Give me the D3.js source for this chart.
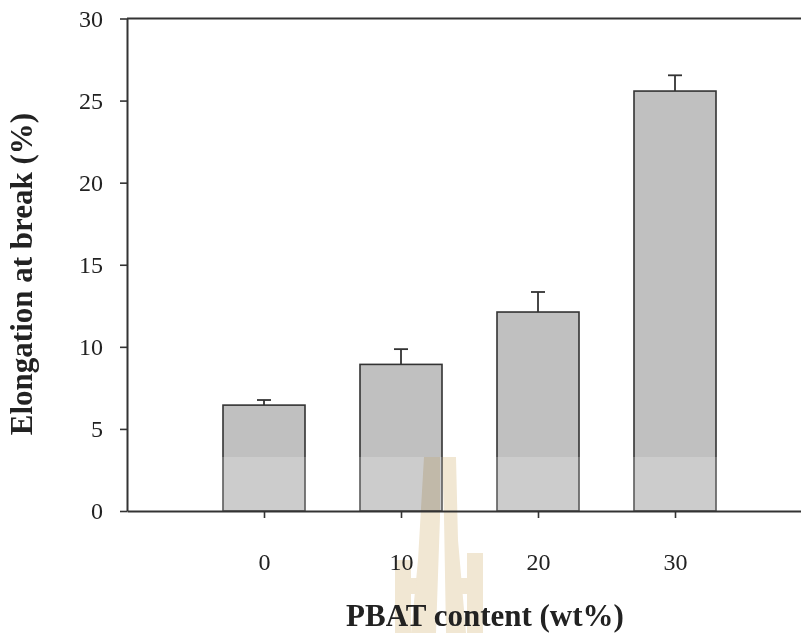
<!DOCTYPE html>
<html>
<head>
<meta charset="utf-8">
<script src="https://cdn.jsdelivr.net/npm/d3@7"></script>
<style>
  body { margin: 0; background: #fff; }
  text { font-family: "Liberation Serif", "Times New Roman", serif; fill: #222; }
</style>
</head>
<body>
<div id="chart"></div>
<script>
// data
var pbat = [0, 10, 20, 30];
var elongation = [6.45, 8.93, 12.12, 25.58];
var errors = [0.31, 0.93, 1.22, 0.96];
var yTicks = [0, 5, 10, 15, 20, 25, 30];

var width = 801;
var height = 633;

var svg = d3.select("#chart").append("svg")
    .attr("width", width)
    .attr("height", height);

/* Scales */
var x = d3.scaleLinear()
    .domain([-10, 40])
    .range([127, 812]);

var y = d3.scaleLinear()
    .domain([0, 30])
    .range([511, 18.5]);

var barWidth = 82;

/* Bars */
svg.append("g")
    .selectAll("rect")
    .data(pbat).enter()
    .append("rect")
    .attr("x", (d, i) => x(d) - barWidth / 2)
    .attr("y", (d, i) => y(elongation[i]))
    .attr("width", barWidth)
    .attr("height", (d, i) => y(0) - y(elongation[i]))
    .attr("fill", "#c0c0c0")
    .attr("stroke", "#333")
    .attr("stroke-width", 1.6);

/* Error bars (upper only) */
var err = svg.append("g")
    .attr("stroke", "#333")
    .attr("stroke-width", 1.8);

err.selectAll(".stem")
    .data(pbat).enter()
    .append("line")
    .attr("x1", d => x(d))
    .attr("x2", d => x(d))
    .attr("y1", (d, i) => y(elongation[i]))
    .attr("y2", (d, i) => y(elongation[i] + errors[i]));

err.selectAll(".cap")
    .data(pbat).enter()
    .append("line")
    .attr("x1", d => x(d) - 7)
    .attr("x2", d => x(d) + 7)
    .attr("y1", (d, i) => y(elongation[i] + errors[i]))
    .attr("y2", (d, i) => y(elongation[i] + errors[i]));

/* Watermark band + logo */
svg.append("rect")
    .attr("x", 127)
    .attr("y", 457)
    .attr("width", width - 127)
    .attr("height", y(0) - 457)
    .attr("fill", "#fff")
    .attr("opacity", 0.2);

var logo = svg.append("g")
    .attr("fill", "#f1e7d3")
    .style("mix-blend-mode", "multiply");
logo.append("path")
    .attr("d", "M424,457 L440,457 L440,517 L436,633 L411,633 L418,560 Z");
logo.append("path")
    .attr("d", "M442,457 L456,457 L458,540 L466,633 L446,633 L444,517 Z");
logo.append("path")
    .attr("d", "M395,560 L411,560 L411,633 L395,633 Z");
logo.append("path")
    .attr("d", "M467,553 L483,553 L483,633 L467,633 Z");
logo.append("path")
    .attr("d", "M411,578 L417,578 L416,594 L411,594 Z");
logo.append("path")
    .attr("d", "M459,578 L467,578 L467,594 L461,594 Z");

/* Axes */
var xAxis = d3.axisBottom(x)
    .tickValues(pbat)
    .tickSize(7)
    .tickSizeOuter(0)
    .tickPadding(35);

var yAxis = d3.axisLeft(y)
    .tickValues(yTicks)
    .tickSize(7)
    .tickSizeOuter(0)
    .tickPadding(17);

var gx = svg.append("g")
    .attr("class", "x axis")
    .attr("transform", `translate(0, ${y(0)})`)
    .call(xAxis);

var gy = svg.append("g")
    .attr("class", "y axis")
    .attr("transform", `translate(${x(-10)}, 0)`)
    .call(yAxis);

[gx, gy].forEach(function(g) {
    g.select(".domain").attr("stroke", "#333").attr("stroke-width", 2);
    g.selectAll(".tick line").attr("stroke", "#333").attr("stroke-width", 1.6);
    g.selectAll(".tick text")
        .attr("fill", "#222")
        .style("font-family", '"Liberation Serif", "Times New Roman", serif')
        .style("font-size", "24px");
});

/* top frame line */
svg.append("line")
    .attr("x1", x(-10))
    .attr("x2", width)
    .attr("y1", y(30))
    .attr("y2", y(30))
    .attr("stroke", "#333")
    .attr("stroke-width", 2);

/* Axis titles */
svg.append("text")
    .attr("x", 485)
    .attr("y", 626)
    .attr("text-anchor", "middle")
    .style("font-size", "31px")
    .style("font-weight", "bold")
    .text("PBAT content (wt%)");

svg.append("text")
    .attr("transform", "translate(32, 274) rotate(-90)")
    .attr("text-anchor", "middle")
    .style("font-size", "31px")
    .style("font-weight", "bold")
    .text("Elongation at break (%)");
</script>
</body>
</html>
